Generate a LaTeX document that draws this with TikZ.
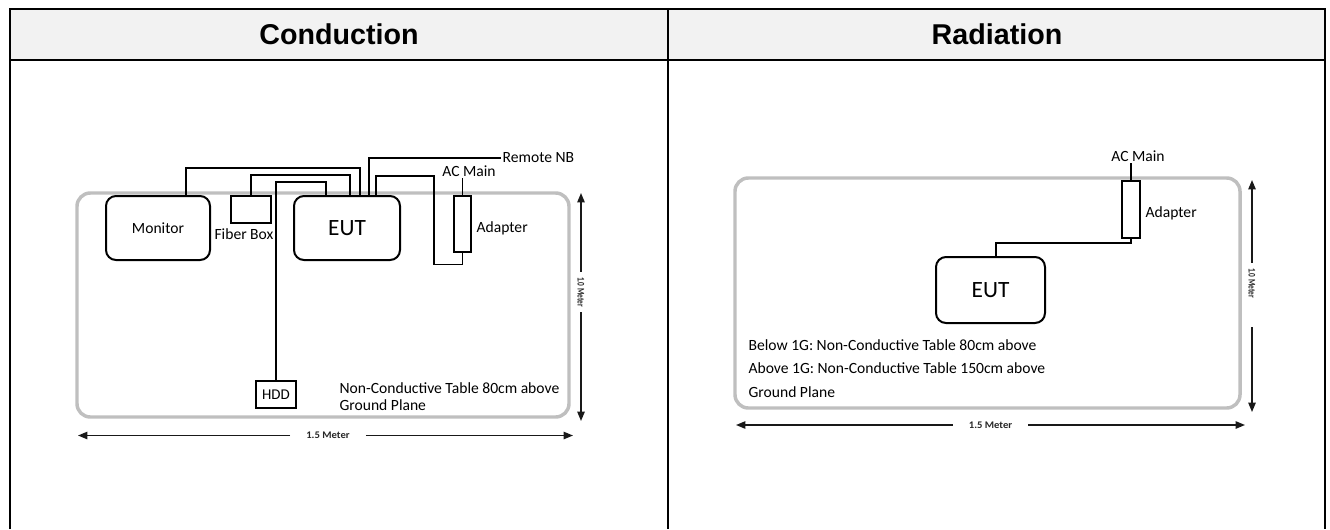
\documentclass[tikz,border=0pt]{standalone}
\usepackage{fontspec}
\setmainfont{Carlito}
\newfontfamily\arialfont{Liberation Sans}
\usetikzlibrary{arrows.meta,calc}
\begin{document}
\begin{tikzpicture}[x=0.75pt,y=-0.75pt,
  frame/.style={line width=2.2pt,black},
  headtxt/.style={font=\arialfont\bfseries\fontsize{21.5pt}{24pt}\selectfont},
  tablebox/.style={draw=black!25,line width=2.6pt,rounded corners=10pt,inner sep=0pt},
  devbox/.style={draw,line width=1.5pt,rounded corners=7.5pt,inner sep=0pt,font=\fontsize{11.7pt}{14pt}\selectfont},
  eutbox/.style={devbox,font=\fontsize{17.5pt}{20pt}\selectfont},
  plainbox/.style={draw,line width=1pt,inner sep=0pt,font=\fontsize{11.2pt}{14pt}\selectfont},
  cable/.style={line width=1pt},
  lbl/.style={inner sep=1pt,font=\fontsize{11.7pt}{14pt}\selectfont},
  dim/.style={line width=1.1pt,black!90,-{Triangle[length=7pt,width=5.5pt]}},
  hdimlbl/.style={inner xsep=12pt,inner ysep=0pt,text=black!85,font=\bfseries\fontsize{7.6pt}{8pt}\selectfont},
  vdimlbl/.style={rotate=-90,inner xsep=4pt,inner ysep=0pt,text=black!85,font=\bfseries\fontsize{7.6pt}{8pt}\selectfont},
]
\useasboundingbox (0,0) rectangle (1330,529);
% ---------- outer table ----------
\fill[black!5] (10,9) rectangle (1325,60);
\draw[frame] (10,529) -- (10,9) -- (1325,9) -- (1325,529);
\draw[frame] (10,60) -- (1325,60);
\draw[frame] (668,9) -- (668,529);
\node[headtxt] (hc) at (339,34) {Conduction};
\node[headtxt] (hr) at (997,34) {Radiation};

% ================= Conduction =================
\node[tablebox,minimum width=369pt,minimum height=168pt] (ctab) at (323,305) {};
\node[devbox,minimum width=78pt,minimum height=48pt] (mon) at (158,228) {Monitor};
\node[plainbox,minimum width=30pt,minimum height=20.25pt] (fib) at (251,209.5) {};
\node[lbl] (fibl) at (244,234) {Fiber Box};
\node[eutbox,minimum width=79.5pt,minimum height=48pt] (eut) at (347,228) {EUT};
\node[plainbox,minimum width=12.75pt,minimum height=42pt] (adp) at (462.5,224) {};
\node[lbl,anchor=west] (adpl) at (475,228) {Adapter};
\node[lbl] (acm) at (469,171) {AC Main};
\node[lbl,anchor=west] (rnb) at (501,158) {Remote NB};
\node[plainbox,minimum width=30pt,minimum height=20.25pt] (hdd) at (276,394.5) {HDD};
\node[lbl,anchor=west,align=left,font=\fontsize{11.7pt}{12.75pt}\selectfont] (cnote) at (338,396.5) {Non-Conductive Table 80cm above\\Ground Plane};

\draw[cable] ($(mon.north)+(28,0)$) |- (360,168) -- ($(eut.north)+(13,0)$);
\draw[cable] (fib.north) |- (350,175) -- ($(eut.north)+(3,0)$);
\draw[cable] (hdd.north) |- (326,182) -- ($(eut.north)+(-21,0)$);
\draw[cable] ($(eut.north)+(22,0)$) |- (rnb.west);
\draw[cable] ($(eut.north)+(29,0)$) |- (434,176) |- ($(adp.south)+(0,12)$) -- (adp.south);
\draw[cable] (adp.north) -- (adp.north |- acm.south);

% dimensions
\coordinate (cwl) at (78,435.5);
\coordinate (cwr) at (573,435.5);
\node[hdimlbl] (cwlab) at (328,435.5) {\scalebox{1.05}[1]{1.5 Meter}};
\draw[dim] (cwlab.west) -- (cwl);
\draw[dim] (cwlab.east) -- (cwr);
\coordinate (cht) at (581,193);
\coordinate (chb) at (581,421);
\node[vdimlbl] (chlab) at (581,292) {\scalebox{0.72}[1]{1.0 Meter}};
\draw[dim] (chlab.west) -- (cht);
\draw[dim] (chlab.east) -- (chb);

% ================= Radiation =================
\node[tablebox,minimum width=378.75pt,minimum height=172.5pt] (rtab) at (987.5,293) {};
\node[plainbox,minimum width=13.5pt,minimum height=42.75pt] (adp2) at (1131,209.5) {};
\node[lbl] (acm2) at (1138,156) {AC Main};
\node[lbl,anchor=west] (adpl2) at (1144,213) {Adapter};
\node[eutbox,minimum width=81.75pt,minimum height=49.5pt] (eut2) at (990.5,290) {EUT};
\draw[cable] (adp2.north) -- (adp2.north |- acm2.south);
\draw[cable] (adp2.south) |- (996,243) -- ($(eut2.north)+(5.5,0)$);
\node[lbl,anchor=west] (rn1) at (747,345) {Below 1G: Non-Conductive Table 80cm above};
\node[lbl,anchor=west] (rn2) at (747,368) {Above 1G: Non-Conductive Table 150cm above};
\node[lbl,anchor=west] (rn3) at (747,392) {Ground Plane};

\coordinate (rwl) at (736,425);
\coordinate (rwr) at (1245,425);
\node[hdimlbl] (rwlab) at (990.5,425) {\scalebox{1.05}[1]{1.5 Meter}};
\draw[dim] (rwlab.west) -- (rwl);
\draw[dim] (rwlab.east) -- (rwr);
\coordinate (rht) at (1252,180);
\coordinate (rhb) at (1252,412);
\coordinate (rhm) at (1252,327);
\node[vdimlbl] (rhlab) at (1252,283) {\scalebox{0.72}[1]{1.0 Meter}};
\draw[dim] (rhlab.west) -- (rht);
\draw[dim] (rhm) -- (rhb);
\end{tikzpicture}
\end{document}
